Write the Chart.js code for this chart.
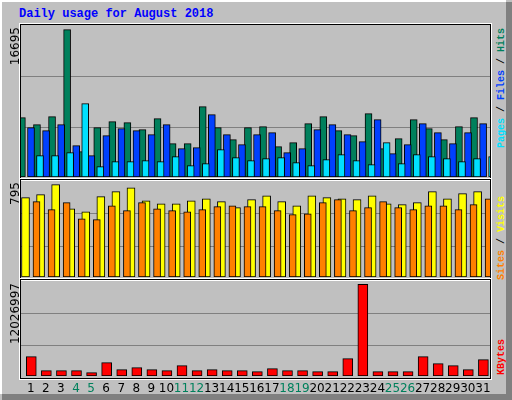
<!DOCTYPE html>
<html><head><meta charset="utf-8">
<script src="https://cdn.jsdelivr.net/npm/chart.js@4"></script>
<style>
html,body{margin:0;padding:0;background:#c0c0c0;}
#wrap{position:absolute;left:0;top:0;width:512px;height:400px;background:#c0c0c0;overflow:hidden;}
#f1{position:absolute;left:0;top:0;width:506px;height:394px;border-top:2px solid #fff;border-left:2px solid #fff;box-sizing:border-box;}
#f2{position:absolute;left:506px;top:2px;width:6px;height:398px;background:#808080;}
#f3{position:absolute;left:2px;top:394px;width:510px;height:6px;background:#808080;}
.panel{position:absolute;left:20px;width:471px;border:1px solid #000;box-sizing:border-box;box-shadow:0 0 0 1px #fff;}
.grid{position:absolute;left:21px;width:469px;height:1px;background:#808080;}
canvas{position:absolute;}
.rot{position:absolute;transform-origin:0 0;transform:rotate(-90deg) translateX(-100%);white-space:nowrap;line-height:12px;}
.lbl{font:12px "DejaVu Sans",sans-serif;color:#000;}
.leg{font:bold 10px "Liberation Mono",monospace;}
.day{position:absolute;top:381px;font:12px "DejaVu Sans",sans-serif;transform:translateX(-50%);}
#title{position:absolute;left:19px;top:7px;font:bold 12px "Liberation Mono",monospace;color:#0000ff;}
</style></head>
<body><div id="wrap">
<div id="f1"></div><div id="f2"></div><div id="f3"></div>
<div id="title">Daily usage for August 2018</div>
<div class="panel" style="top:24px;height:156px"></div>
<div class="panel" style="top:179px;height:101px"></div>
<div class="panel" style="top:279px;height:100px"></div>
<div class="grid" style="top:76px"></div><div class="grid" style="top:127px"></div>
<div class="grid" style="top:213px"></div><div class="grid" style="top:246px"></div>
<div class="grid" style="top:313px"></div><div class="grid" style="top:345px"></div>
<canvas id="c1" style="left:21px;top:26px;width:469px;height:151px"></canvas>
<canvas id="c2" style="left:21px;top:181px;width:469px;height:96px"></canvas>
<canvas id="c3" style="left:21px;top:281px;width:469px;height:95px"></canvas>
<div class="rot lbl" style="left:8px;top:27px">16695</div>
<div class="rot lbl" style="left:8px;top:182px">795</div>
<div class="rot lbl" style="left:8px;top:283px">12026997</div>
<div class="rot leg" style="left:496px;top:28px"><span style="color:#00e0ff">Pages</span> / <span style="color:#0040ff">Files</span> / <span style="color:#00805c">Hits</span></div>
<div class="rot leg" style="left:496px;top:196px"><span style="color:#ff8000">Sites</span> / <span style="color:#ffff00">Visits</span></div>
<div class="rot leg" style="left:496px;top:339px"><span style="color:#ff0000">KBytes</span></div>
<div id="days"></div>
</div>
<script>
const days = Array.from({length:31},(_,i)=>i+1);
const weekendDays = [4,5,11,12,18,19,25,26];
const hits  = [6725,5935,6840,16695,2870,5590,6275,6160,5370,6615,3780,3780,7975,5590,4235,5590,5710,3440,3895,6050,6840,5250,4690,7180,3210,4345,6500,5480,4235,5710,6725];
const files = [5590,5250,5935,3550,2420,4690,5480,5250,4800,5935,3210,3325,7070,4800,3665,4800,5030,2760,3210,5370,5935,4800,4005,6500,2645,3665,6050,5030,3780,5030,6050];
const pages = [2420,2420,2760,8315,1170,1740,1740,1850,1740,2305,1285,1510,3100,2190,1850,2080,2190,1625,1285,1965,2530,1850,1400,3895,1510,2530,2305,2080,1740,2080,2305];
const visits = [683,709,795,588,562,692,735,769,657,631,631,657,674,649,597,666,700,649,614,700,683,674,666,700,631,623,640,735,674,718,735];
const sites  = [649,580,640,502,494,614,571,640,588,571,562,580,606,614,606,606,571,537,545,640,666,571,597,649,597,580,614,614,580,623,674];
const kbytes = [2546000,702000,702000,702000,439000,1756000,834000,1097000,834000,702000,1361000,702000,834000,702000,702000,571000,966000,702000,702000,571000,571000,2282000,12026997,571000,571000,571000,2546000,1624000,1361000,834000,2151000];
const maxLabels = [16695,795,12026997];

const PX = 15.07, X0 = 10.3, W = 469;
const xmin = 1 - X0/PX, xmax = xmin + W/PX;
function xAxis(shiftPx){ return {type:'linear',display:false,min:xmin - shiftPx/PX,max:xmax - shiftPx/PX,offset:false}; }
function ds(data,color,axis,thick,order){
  return {data:data.map((v,i)=>({x:days[i],y:v})),backgroundColor:color,borderColor:'#000',borderWidth:1,
    borderSkipped:false,barThickness:thick,xAxisID:axis,order:order};
}
function make(id,datasets,axes,ymax){
  const scales = {y:{display:false,min:0,max:ymax}};
  for(const k in axes) scales[k]=axes[k];
  return new Chart(document.getElementById(id),{type:'bar',data:{datasets},
    options:{responsive:false,animation:false,maintainAspectRatio:false,devicePixelRatio:1,
      layout:{padding:0},plugins:{legend:{display:false},tooltip:{enabled:false}},
      scales:scales}});
}
function sizeCanvas(id){const c=document.getElementById(id);c.width=parseInt(c.style.width);c.height=parseInt(c.style.height);}
['c1','c2','c3'].forEach(sizeCanvas);
make('c1',[ds(hits,'#00805c','xg',7,2),ds(files,'#0040ff','xf',7,1),ds(pages,'#00e0ff','xp',7,0)],
  {xg:xAxis(-2.4),xf:xAxis(-0.3),xp:xAxis(1.7)}, maxLabels[0]*1.025);
make('c2',[ds(visits,'#ffff00','xv',8,1),ds(sites,'#ff8000','xs',7,0)],
  {xv:xAxis(-1.8),xs:xAxis(1.7)}, maxLabels[1]*1.04);
const c3 = make('c3',[ds(kbytes,'#ff0000','xk',10,0)],{xk:xAxis(0)}, maxLabels[2]*1.036);
const sc = c3.scales.xk, box = document.getElementById('days');
days.forEach(d=>{
  const s=document.createElement('span');s.className='day';s.textContent=d;
  s.style.left=(21+sc.getPixelForValue(d)-0.5)+'px';
  s.style.color=weekendDays.includes(d)?'#00805c':'#000';
  box.appendChild(s);
});
</script></body></html>
